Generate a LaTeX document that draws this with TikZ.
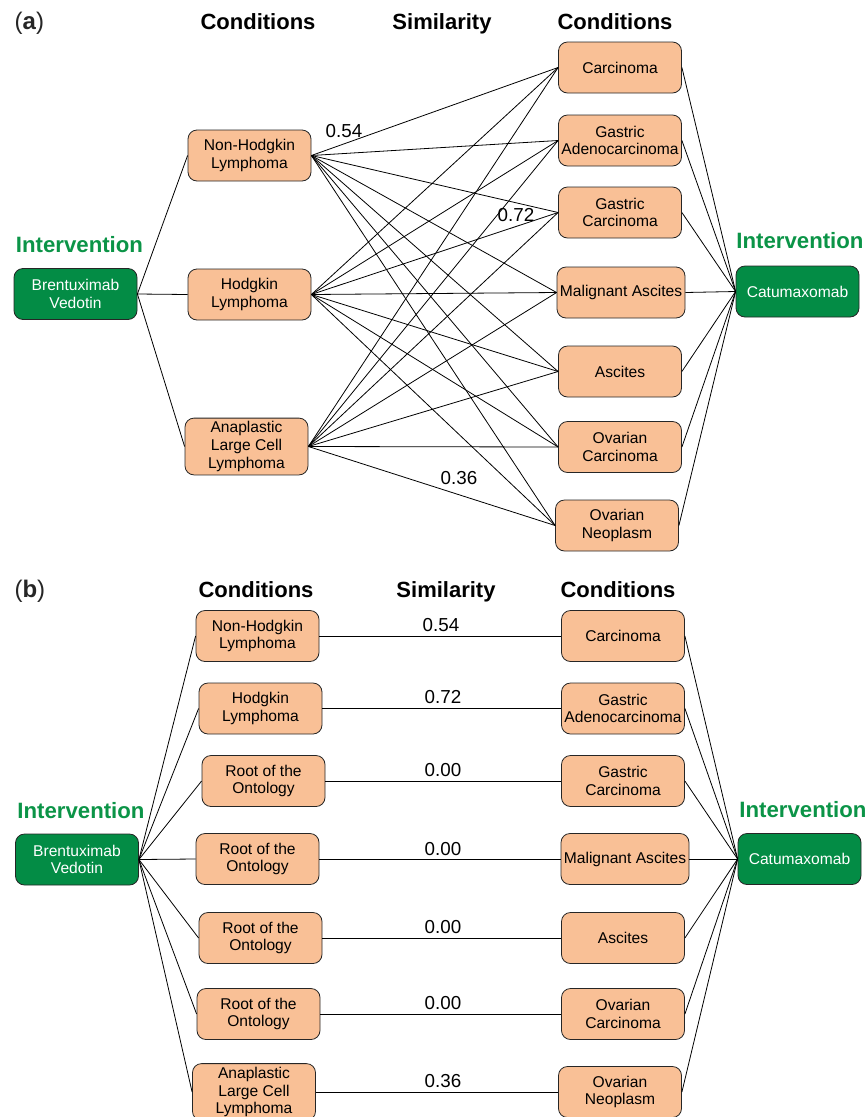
\documentclass[tikz,border=0pt]{standalone}
\usepackage{fontspec}
\setmainfont{Liberation Sans}
\definecolor{peach}{HTML}{F9C096}
\definecolor{dgreen}{HTML}{038C45}
\definecolor{tgreen}{HTML}{0B9447}
\begin{document}
\begin{tikzpicture}[x=1pt,y=-1pt,
  cond/.style={draw=black!85, fill=peach, rounded corners=9pt, minimum width=123pt, minimum height=51pt, align=center, font=\fontsize{15.6}{17.8}\selectfont, inner xsep=1pt, line width=0.8pt},
  interv/.style={draw=black!85, fill=dgreen, text=white, rounded corners=9pt, minimum width=123pt, minimum height=51pt, align=center, font=\fontsize{15.6}{17.8}\selectfont, line width=0.8pt},
  hdr/.style={anchor=base, font=\fontsize{22}{24}\selectfont\bfseries},
  ilab/.style={anchor=base, font=\fontsize{22.2}{24}\selectfont\bfseries, text=tgreen},
  sim/.style={anchor=base, font=\fontsize{18.8}{20}\selectfont},
  plab/.style={anchor=base west, font=\fontsize{24}{26}\selectfont, text=black!85},
  link/.style={line width=0.8pt, black}]
\useasboundingbox (0,0) rectangle (867,1117);
% ---------------- panel (a) ----------------
\node[plab] (pa) at (11,29) {(\textbf{a})};
\node[hdr] (ha1) at (258,29) {Conditions};
\node[hdr] (ha2) at (442,29) {Similarity};
\node[hdr] (ha3) at (615,29) {Conditions};
\node[ilab] (ia1) at (79.5,252) {Intervention};
\node[ilab] (ia2) at (800,248) {Intervention};

\node[interv] (bv) at (75.5,294) {Brentuximab\\Vedotin};
\node[interv] (cat) at (797.5,291.5) {Catumaxomab};

\node[cond] (l1) at (249.5,155.5) {Non-Hodgkin\\Lymphoma};
\node[cond] (l2) at (249.5,294.5) {Hodgkin\\Lymphoma};
\node[cond] (l3) at (246.5,446.5) {Anaplastic\\Large Cell\\Lymphoma};

\node[cond] (r1) at (620,67.5) {Carcinoma};
\node[cond] (r2) at (620,140.5) {Gastric\\Adenocarcinoma};
\node[cond] (r3) at (620,212.5) {Gastric\\Carcinoma};
\node[cond, minimum width=128pt] (r4) at (621,292.5) {Malignant Ascites};
\node[cond] (r5) at (620,371.5) {Ascites};
\node[cond] (r6) at (620,447) {Ovarian\\Carcinoma};
\node[cond] (r7) at (617,525.5) {Ovarian\\Neoplasm};

\foreach \l in {l1,l2,l3} {
  \draw[link] (bv.east) -- (\l.west);
  \foreach \r in {r1,r2,r3,r4,r5,r6,r7} {
    \draw[link] (\l.east) -- (\r.west);
  }
}
\foreach \r in {r1,r2,r3,r4,r5,r6,r7} {
  \draw[link] (\r.east) -- (cat.west);
}
\node[sim] (sa1) at (344,137) {0.54};
\node[sim] (sa2) at (516,221) {0.72};
\node[sim] (sa3) at (459,484) {0.36};

% ---------------- panel (b) ----------------
\node[plab] (pb) at (11,597) {(\textbf{b})};
\node[hdr] (hb1) at (256,597) {Conditions};
\node[hdr] (hb2) at (446,597) {Similarity};
\node[hdr] (hb3) at (618,597) {Conditions};
\node[ilab] (ib1) at (81,818) {Intervention};
\node[ilab] (ib2) at (803,817) {Intervention};

\node[interv] (bv2) at (77,859.5) {Brentuximab\\Vedotin};
\node[interv] (cat2) at (799.5,859) {Catumaxomab};

\node[cond] (m1) at (257.5,636) {Non-Hodgkin\\Lymphoma};
\node[cond] (m2) at (260.5,708.5) {Hodgkin\\Lymphoma};
\node[cond] (m3) at (263.5,781) {Root of the\\Ontology};
\node[cond] (m4) at (257.5,859) {Root of the\\Ontology};
\node[cond] (m5) at (260.5,938) {Root of the\\Ontology};
\node[cond] (m6) at (258.5,1014) {Root of the\\Ontology};
\node[cond] (m7) at (254,1092) {Anaplastic\\Large Cell\\Lymphoma};

\node[cond] (s1) at (623,636) {Carcinoma};
\node[cond] (s2) at (623,708.5) {Gastric\\Adenocarcinoma};
\node[cond] (s3) at (623,781) {Gastric\\Carcinoma};
\node[cond, minimum width=128pt] (s4) at (625,859) {Malignant Ascites};
\node[cond] (s5) at (623,938) {Ascites};
\node[cond] (s6) at (623,1014) {Ovarian\\Carcinoma};
\node[cond] (s7) at (620,1092) {Ovarian\\Neoplasm};

\foreach \i in {1,...,7} {
  \draw[link] (bv2.east) -- (m\i.west);
  \draw[link] (m\i.east) -- (s\i.west);
  \draw[link] (s\i.east) -- (cat2.west);
}
\node[sim] (sb1) at (441,631) {0.54};
\node[sim] (sb2) at (443,703) {0.72};
\node[sim] (sb3) at (443,776) {0.00};
\node[sim] (sb4) at (443,855) {0.00};
\node[sim] (sb5) at (443,933) {0.00};
\node[sim] (sb6) at (443,1009) {0.00};
\node[sim] (sb7) at (443,1087) {0.36};
\end{tikzpicture}
\end{document}
